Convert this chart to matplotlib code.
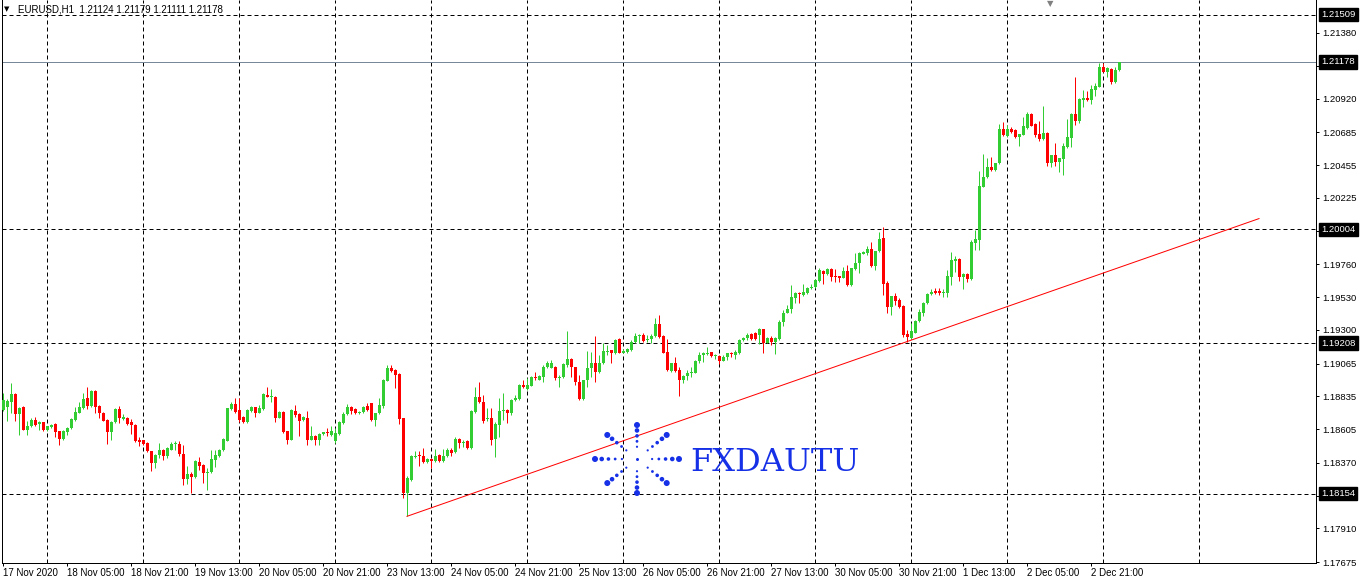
import numpy as np
import matplotlib.pyplot as plt
import matplotlib.transforms as mtransforms

plt.rcParams['font.family'] = ['Liberation Sans', 'DejaVu Sans']

# EURUSD H1 candles, bar 0 = 17 Nov 13:00
opens = [
    1.18741, 1.18764, 1.18799, 1.18852, 1.18710, 1.18764, 1.18601, 1.18624, 1.18671, 1.18640,
    1.18652, 1.18596, 1.18617, 1.18643, 1.18590, 1.18538, 1.18582, 1.18612, 1.18671, 1.18722,
    1.18757, 1.18827, 1.18771, 1.18873, 1.18768, 1.18722, 1.18671, 1.18582, 1.18652, 1.18750,
    1.18678, 1.18687, 1.18652, 1.18636, 1.18524, 1.18526, 1.18508, 1.18449, 1.18368, 1.18421,
    1.18456, 1.18414, 1.18461, 1.18501, 1.18503, 1.18433, 1.18258, 1.18293, 1.18270, 1.18377,
    1.18356, 1.18298, 1.18302, 1.18386, 1.18414, 1.18456, 1.18524, 1.18747, 1.18782, 1.18741,
    1.18694, 1.18652, 1.18734, 1.18759, 1.18722, 1.18747, 1.18845, 1.18834, 1.18834, 1.18687,
    1.18729, 1.18590, 1.18531, 1.18734, 1.18713, 1.18671, 1.18687, 1.18531, 1.18559, 1.18526,
    1.18568, 1.18582, 1.18566, 1.18519, 1.18573, 1.18647, 1.18710, 1.18764, 1.18745, 1.18717,
    1.18724, 1.18768, 1.18787, 1.18671, 1.18717, 1.18771, 1.18946, 1.19032, 1.19020, 1.18992,
    1.18683, 1.18158, 1.18251, 1.18407, 1.18419, 1.18419, 1.18372, 1.18398, 1.18379, 1.18426,
    1.18379, 1.18414, 1.18459, 1.18448, 1.18534, 1.18506, 1.18522, 1.18471, 1.18728, 1.18828,
    1.18798, 1.18674, 1.18681, 1.18534, 1.18634, 1.18732, 1.18740, 1.18716, 1.18810, 1.18814,
    1.18915, 1.18884, 1.18910, 1.18973, 1.18953, 1.18973, 1.19043, 1.19031, 1.19043, 1.18966,
    1.18968, 1.19055, 1.19094, 1.19038, 1.18938, 1.18814, 1.18950, 1.19031, 1.19071, 1.19008,
    1.19066, 1.19148, 1.19160, 1.19141, 1.19234, 1.19141, 1.19148, 1.19160, 1.19218, 1.19258,
    1.19265, 1.19230, 1.19237, 1.19258, 1.19342, 1.19258, 1.19148, 1.19015, 1.19066, 1.19020,
    1.18950, 1.18978, 1.19001, 1.19001, 1.19083, 1.19125, 1.19132, 1.19143, 1.19118, 1.19118,
    1.19085, 1.19108, 1.19141, 1.19125, 1.19141, 1.19230, 1.19241, 1.19269, 1.19277, 1.19265,
    1.19305, 1.19211, 1.19241, 1.19218, 1.19234, 1.19358, 1.19421, 1.19444, 1.19526, 1.19561,
    1.19545, 1.19561, 1.19591, 1.19598, 1.19645, 1.19713, 1.19692, 1.19727, 1.19678, 1.19678,
    1.19666, 1.19713, 1.19615, 1.19724, 1.19766, 1.19836, 1.19836, 1.19867, 1.19748, 1.19853,
    1.19941, 1.19626, 1.19463, 1.19537, 1.19509, 1.19467, 1.19271, 1.19246, 1.19281, 1.19365,
    1.19421, 1.19486, 1.19549, 1.19568, 1.19568, 1.19561, 1.19561, 1.19673, 1.19785, 1.19797,
    1.19673, 1.19692, 1.19654, 1.19911, 1.19930, 1.20304, 1.20369, 1.20444, 1.20420, 1.20467,
    1.20708, 1.20659, 1.20708, 1.20701, 1.20654, 1.20666, 1.20717, 1.20813, 1.20743, 1.20673,
    1.20635, 1.20682, 1.20467, 1.20525, 1.20479, 1.20497, 1.20579, 1.20647, 1.20813, 1.20766,
    1.20911, 1.20927, 1.20911, 1.20981, 1.21004, 1.21140, 1.21109, 1.21128, 1.21039, 1.21124,
]
highs = [
    1.18857, 1.18815, 1.18932, 1.18857, 1.18764, 1.18768, 1.18660, 1.18683, 1.18694, 1.18660,
    1.18657, 1.18629, 1.18643, 1.18647, 1.18594, 1.18596, 1.18617, 1.18683, 1.18764, 1.18799,
    1.18862, 1.18899, 1.18880, 1.18880, 1.18775, 1.18729, 1.18675, 1.18660, 1.18757, 1.18771,
    1.18710, 1.18694, 1.18675, 1.18640, 1.18549, 1.18531, 1.18512, 1.18454, 1.18431, 1.18508,
    1.18466, 1.18477, 1.18512, 1.18519, 1.18519, 1.18496, 1.18344, 1.18302, 1.18386, 1.18410,
    1.18361, 1.18333, 1.18461, 1.18456, 1.18466, 1.18542, 1.18757, 1.18796, 1.18822, 1.18822,
    1.18699, 1.18745, 1.18768, 1.18764, 1.18775, 1.18857, 1.18904, 1.18885, 1.18838, 1.18734,
    1.18734, 1.18594, 1.18745, 1.18775, 1.18717, 1.18699, 1.18734, 1.18629, 1.18563, 1.18577,
    1.18587, 1.18612, 1.18629, 1.18612, 1.18660, 1.18729, 1.18780, 1.18768, 1.18752, 1.18736,
    1.18768, 1.18787, 1.18792, 1.18722, 1.18822, 1.18955, 1.19055, 1.19055, 1.19025, 1.18997,
    1.18687, 1.18275, 1.18426, 1.18449, 1.18449, 1.18473, 1.18403, 1.18403, 1.18466, 1.18431,
    1.18466, 1.18473, 1.18471, 1.18548, 1.18541, 1.18529, 1.18529, 1.18740, 1.18903, 1.18938,
    1.18845, 1.18751, 1.18751, 1.18658, 1.18821, 1.18856, 1.18744, 1.18814, 1.18845, 1.18922,
    1.18953, 1.18961, 1.18980, 1.19008, 1.18985, 1.19055, 1.19085, 1.19090, 1.19048, 1.18985,
    1.19066, 1.19293, 1.19101, 1.19043, 1.18985, 1.18953, 1.19155, 1.19148, 1.19258, 1.19125,
    1.19211, 1.19195, 1.19160, 1.19234, 1.19241, 1.19164, 1.19171, 1.19230, 1.19277, 1.19272,
    1.19277, 1.19265, 1.19272, 1.19382, 1.19405, 1.19265, 1.19234, 1.19071, 1.19113, 1.19043,
    1.18985, 1.19020, 1.19043, 1.19090, 1.19148, 1.19148, 1.19178, 1.19148, 1.19132, 1.19125,
    1.19125, 1.19141, 1.19148, 1.19160, 1.19234, 1.19248, 1.19281, 1.19281, 1.19283, 1.19312,
    1.19309, 1.19248, 1.19258, 1.19253, 1.19370, 1.19440, 1.19475, 1.19615, 1.19568, 1.19568,
    1.19622, 1.19603, 1.19622, 1.19654, 1.19731, 1.19720, 1.19731, 1.19731, 1.19724, 1.19678,
    1.19738, 1.19755, 1.19731, 1.19837, 1.19848, 1.19855, 1.19888, 1.19918, 1.19853, 1.19988,
    1.20018, 1.19645, 1.19537, 1.19556, 1.19521, 1.19474, 1.19299, 1.19346, 1.19369, 1.19446,
    1.19498, 1.19556, 1.19587, 1.19591, 1.19591, 1.19587, 1.19720, 1.19848, 1.19818, 1.19801,
    1.19701, 1.19701, 1.19930, 1.20000, 1.20416, 1.20532, 1.20502, 1.20514, 1.20472, 1.20743,
    1.20759, 1.20736, 1.20719, 1.20708, 1.20673, 1.20789, 1.20829, 1.20817, 1.20747, 1.20766,
    1.20869, 1.20689, 1.20525, 1.20607, 1.20507, 1.20607, 1.20778, 1.20817, 1.21074, 1.20922,
    1.20981, 1.20974, 1.21016, 1.21028, 1.21172, 1.21172, 1.21140, 1.21133, 1.21140, 1.21179,
]
lows = [
    1.18736, 1.18660, 1.18717, 1.18660, 1.18566, 1.18596, 1.18566, 1.18617, 1.18624, 1.18601,
    1.18592, 1.18590, 1.18612, 1.18549, 1.18496, 1.18531, 1.18566, 1.18605, 1.18666, 1.18717,
    1.18750, 1.18747, 1.18764, 1.18717, 1.18687, 1.18660, 1.18503, 1.18531, 1.18647, 1.18647,
    1.18671, 1.18636, 1.18573, 1.18512, 1.18484, 1.18496, 1.18442, 1.18310, 1.18333, 1.18403,
    1.18391, 1.18403, 1.18456, 1.18456, 1.18414, 1.18212, 1.18223, 1.18158, 1.18263, 1.18321,
    1.18228, 1.18177, 1.18298, 1.18337, 1.18410, 1.18449, 1.18519, 1.18741, 1.18722, 1.18652,
    1.18647, 1.18647, 1.18729, 1.18694, 1.18717, 1.18741, 1.18829, 1.18799, 1.18652, 1.18683,
    1.18577, 1.18503, 1.18526, 1.18694, 1.18559, 1.18666, 1.18491, 1.18526, 1.18496, 1.18491,
    1.18563, 1.18554, 1.18559, 1.18508, 1.18566, 1.18643, 1.18706, 1.18713, 1.18713, 1.18713,
    1.18717, 1.18736, 1.18666, 1.18624, 1.18713, 1.18752, 1.18941, 1.19008, 1.18892, 1.18640,
    1.18123, 1.17995, 1.18240, 1.18403, 1.18344, 1.18368, 1.18368, 1.18333, 1.18375, 1.18375,
    1.18375, 1.18410, 1.18417, 1.18436, 1.18471, 1.18483, 1.18466, 1.18466, 1.18721, 1.18786,
    1.18651, 1.18665, 1.18494, 1.18408, 1.18553, 1.18669, 1.18646, 1.18704, 1.18805, 1.18810,
    1.18891, 1.18880, 1.18905, 1.18950, 1.18950, 1.18938, 1.19031, 1.19031, 1.18953, 1.18903,
    1.18961, 1.19043, 1.18973, 1.18915, 1.18810, 1.18810, 1.18898, 1.18973, 1.18938, 1.19001,
    1.19059, 1.19125, 1.19071, 1.19132, 1.19136, 1.19136, 1.19141, 1.19155, 1.19211, 1.19211,
    1.19218, 1.19218, 1.19206, 1.19253, 1.19246, 1.19136, 1.19015, 1.19008, 1.19008, 1.18840,
    1.18931, 1.18950, 1.18973, 1.18996, 1.19071, 1.19078, 1.19125, 1.19113, 1.19094, 1.19059,
    1.19083, 1.19090, 1.19108, 1.19094, 1.19132, 1.19225, 1.19230, 1.19230, 1.19230, 1.19202,
    1.19136, 1.19206, 1.19195, 1.19132, 1.19230, 1.19328, 1.19416, 1.19416, 1.19486, 1.19491,
    1.19538, 1.19552, 1.19584, 1.19591, 1.19638, 1.19622, 1.19685, 1.19643, 1.19638, 1.19638,
    1.19661, 1.19610, 1.19610, 1.19720, 1.19696, 1.19832, 1.19825, 1.19738, 1.19720, 1.19848,
    1.19544, 1.19416, 1.19404, 1.19474, 1.19451, 1.19253, 1.19218, 1.19234, 1.19276, 1.19358,
    1.19397, 1.19481, 1.19545, 1.19551, 1.19545, 1.19533, 1.19528, 1.19615, 1.19708, 1.19645,
    1.19589, 1.19638, 1.19650, 1.19860, 1.19860, 1.20299, 1.20362, 1.20416, 1.20416, 1.20462,
    1.20659, 1.20654, 1.20682, 1.20642, 1.20589, 1.20666, 1.20708, 1.20729, 1.20654, 1.20626,
    1.20631, 1.20448, 1.20444, 1.20448, 1.20409, 1.20385, 1.20572, 1.20584, 1.20736, 1.20747,
    1.20864, 1.20906, 1.20883, 1.20941, 1.21000, 1.21105, 1.21074, 1.21023, 1.21032, 1.21111,
]
closes = [
    1.18810, 1.18806, 1.18852, 1.18710, 1.18757, 1.18601, 1.18629, 1.18671, 1.18631, 1.18652,
    1.18596, 1.18624, 1.18636, 1.18582, 1.18538, 1.18590, 1.18612, 1.18675, 1.18729, 1.18764,
    1.18815, 1.18771, 1.18873, 1.18764, 1.18717, 1.18664, 1.18582, 1.18652, 1.18750, 1.18683,
    1.18694, 1.18643, 1.18636, 1.18519, 1.18521, 1.18503, 1.18449, 1.18368, 1.18426, 1.18456,
    1.18414, 1.18473, 1.18503, 1.18503, 1.18433, 1.18258, 1.18293, 1.18270, 1.18379, 1.18349,
    1.18298, 1.18307, 1.18398, 1.18421, 1.18461, 1.18538, 1.18752, 1.18782, 1.18729, 1.18671,
    1.18652, 1.18741, 1.18764, 1.18722, 1.18757, 1.18850, 1.18834, 1.18836, 1.18687, 1.18729,
    1.18582, 1.18531, 1.18741, 1.18706, 1.18664, 1.18694, 1.18531, 1.18559, 1.18531, 1.18573,
    1.18582, 1.18577, 1.18590, 1.18577, 1.18652, 1.18710, 1.18764, 1.18734, 1.18717, 1.18729,
    1.18764, 1.18741, 1.18671, 1.18717, 1.18775, 1.18950, 1.19032, 1.19015, 1.18985, 1.18678,
    1.18158, 1.18263, 1.18414, 1.18419, 1.18417, 1.18372, 1.18398, 1.18379, 1.18419, 1.18379,
    1.18419, 1.18461, 1.18441, 1.18534, 1.18511, 1.18513, 1.18471, 1.18732, 1.18828, 1.18798,
    1.18665, 1.18681, 1.18529, 1.18641, 1.18732, 1.18735, 1.18716, 1.18810, 1.18826, 1.18915,
    1.18898, 1.18915, 1.18973, 1.18961, 1.18978, 1.19043, 1.19066, 1.19066, 1.18966, 1.18968,
    1.19062, 1.19094, 1.19038, 1.18938, 1.18814, 1.18950, 1.19031, 1.19066, 1.19008, 1.19071,
    1.19153, 1.19155, 1.19141, 1.19230, 1.19141, 1.19155, 1.19167, 1.19218, 1.19258, 1.19265,
    1.19225, 1.19237, 1.19260, 1.19342, 1.19248, 1.19141, 1.19020, 1.19066, 1.19015, 1.18950,
    1.18978, 1.19001, 1.19008, 1.19085, 1.19125, 1.19136, 1.19141, 1.19118, 1.19120, 1.19085,
    1.19108, 1.19136, 1.19132, 1.19148, 1.19230, 1.19241, 1.19265, 1.19234, 1.19234, 1.19305,
    1.19206, 1.19241, 1.19218, 1.19241, 1.19358, 1.19421, 1.19444, 1.19528, 1.19561, 1.19549,
    1.19568, 1.19596, 1.19603, 1.19650, 1.19720, 1.19692, 1.19727, 1.19673, 1.19668, 1.19666,
    1.19713, 1.19615, 1.19731, 1.19766, 1.19837, 1.19843, 1.19867, 1.19750, 1.19853, 1.19937,
    1.19622, 1.19463, 1.19537, 1.19505, 1.19463, 1.19264, 1.19253, 1.19292, 1.19365, 1.19428,
    1.19486, 1.19551, 1.19568, 1.19563, 1.19563, 1.19568, 1.19678, 1.19790, 1.19797, 1.19673,
    1.19692, 1.19654, 1.19918, 1.19937, 1.20308, 1.20374, 1.20444, 1.20420, 1.20467, 1.20708,
    1.20666, 1.20708, 1.20689, 1.20654, 1.20673, 1.20729, 1.20813, 1.20731, 1.20666, 1.20635,
    1.20682, 1.20467, 1.20525, 1.20479, 1.20507, 1.20589, 1.20649, 1.20813, 1.20766, 1.20915,
    1.20927, 1.20911, 1.20985, 1.21009, 1.21140, 1.21109, 1.21133, 1.21039, 1.21121, 1.21178,
]

time_labels = ["17 Nov 2020", "18 Nov 05:00", "18 Nov 21:00", "19 Nov 13:00", "20 Nov 05:00",
               "20 Nov 21:00", "23 Nov 13:00", "24 Nov 05:00", "24 Nov 21:00", "25 Nov 13:00",
               "26 Nov 05:00", "26 Nov 21:00", "27 Nov 13:00", "30 Nov 05:00", "30 Nov 21:00",
               "1 Dec 13:00", "2 Dec 05:00", "2 Dec 21:00"]
bars_per_label = 16

# price scale; the ones under the level boxes are left without text
price_ticks = [1.21380, 1.21150, 1.20920, 1.20685, 1.20455, 1.20225, 1.19995, 1.19760, 1.19530,
               1.19300, 1.19065, 1.18835, 1.18605, 1.18370, 1.18140, 1.17910, 1.17675]
covered_ticks = [1.21150, 1.19995, 1.18140]

level_prices = [1.21509, 1.20004, 1.19208, 1.18154]
bid_price = 1.21178
last_ohlc = "1.21124 1.21179 1.21111 1.21178"

trend_bars = [101, 314]
trend_prices = [1.17995, 1.20080]

W, H = 1361, 583
LW = 0.72  # one pixel
DASH = (0, (4, 3))

fig = plt.figure(figsize=(W / 100, H / 100), dpi=100)
fig.patch.set_facecolor('white')
ax = fig.add_axes([2 / W, 20 / H, 1314 / W, 563 / H])

o = np.array(opens)
h = np.array(highs)
l = np.array(lows)
c = np.array(closes)
x = np.arange(len(c))
cols = np.where(c >= o, '#32CD32', '#FF0000')

# grid and levels
for b in range(11, 300, 24):
    ax.axvline(b, color='black', lw=LW, ls=DASH, zorder=1)
for p in level_prices:
    ax.axhline(p, color='black', lw=LW, ls=DASH, zorder=1)
ax.axhline(bid_price, color='#778899', lw=LW, zorder=1)

# candles
ax.vlines(x, l, h, colors=cols, lw=LW, zorder=3)
body = np.abs(c - o)
mid = (o + c) / 2
body_h = np.maximum(body, 0.00008)
ax.bar(x, body_h, bottom=mid - body_h / 2, width=0.75, color=cols, linewidth=0, zorder=4)

ax.plot(trend_bars, trend_prices, color='red', lw=LW, zorder=5)

ax.set_xlim(-0.25, 328.25)
ax.set_ylim(1.17668, 1.21611)

ax.yaxis.tick_right()
ax.set_yticks(price_ticks, ["" if p in covered_ticks else f"{p:.5f}" for p in price_ticks])
ax.tick_params(axis='y', direction='out', length=2.2, width=LW, pad=2, labelsize=6.8)
ax.set_xticks(np.arange(len(time_labels)) * bars_per_label, time_labels)
for t in ax.get_xticklabels():
    t.set_horizontalalignment('left')
ax.tick_params(axis='x', direction='out', length=2.2, width=LW, pad=1.5, labelsize=7)
for s in ['left', 'bottom', 'right']:
    ax.spines[s].set_linewidth(LW)
ax.spines['top'].set_visible(False)

trans = mtransforms.blended_transform_factory(ax.transAxes, ax.transData)
for p in level_prices + [bid_price]:
    ax.text(1 + 5 / 1314, p, f"{p:.5f}", transform=trans, ha='left', va='center',
            color='white', fontsize=6.8, zorder=10,
            bbox=dict(boxstyle='square,pad=0.25', fc='black', ec='black'))

# header and markers
fig.text(18 / W, 1 - 10 / H, "EURUSD,H1  " + last_ohlc, fontsize=7, ha='left', va='center')
fig.text(7 / W, 1 - 9 / H, "\u25bc", fontsize=5, ha='center', va='center',
         family=['DejaVu Sans'])
fig.text(1050 / W, 1 - 4 / H, "\u25bc", fontsize=6, ha='center', va='center',
         color='#808080', family=['DejaVu Sans'])

# watermark logo
ov = fig.add_axes([0, 0, 1, 1])
ov.set_xlim(0, W)
ov.set_ylim(H, 0)
ov.axis('off')
cx, cy = 637, 459
blue = '#1530e6'
ts = np.array([0.36, 0.52, 0.68, 0.84, 1.0])
rads = np.array([1.1, 1.4, 1.8, 2.3, 3.0])
for ang in np.deg2rad(np.arange(0, 360, 45)):
    px = cx + 42 * np.cos(ang) * ts
    py = cy - 34 * np.sin(ang) * ts
    ov.scatter(px, py, s=(1.44 * rads) ** 2, color=blue, linewidths=0)
ov.scatter([cx], [cy], s=(1.44 * 1.5) ** 2, color=blue, linewidths=0)
ov.text(690, 471, "FXDAUTU", fontsize=23, family='DejaVu Serif', color=blue,
        ha='left', va='baseline')

fig.savefig('out.png', dpi=100)
